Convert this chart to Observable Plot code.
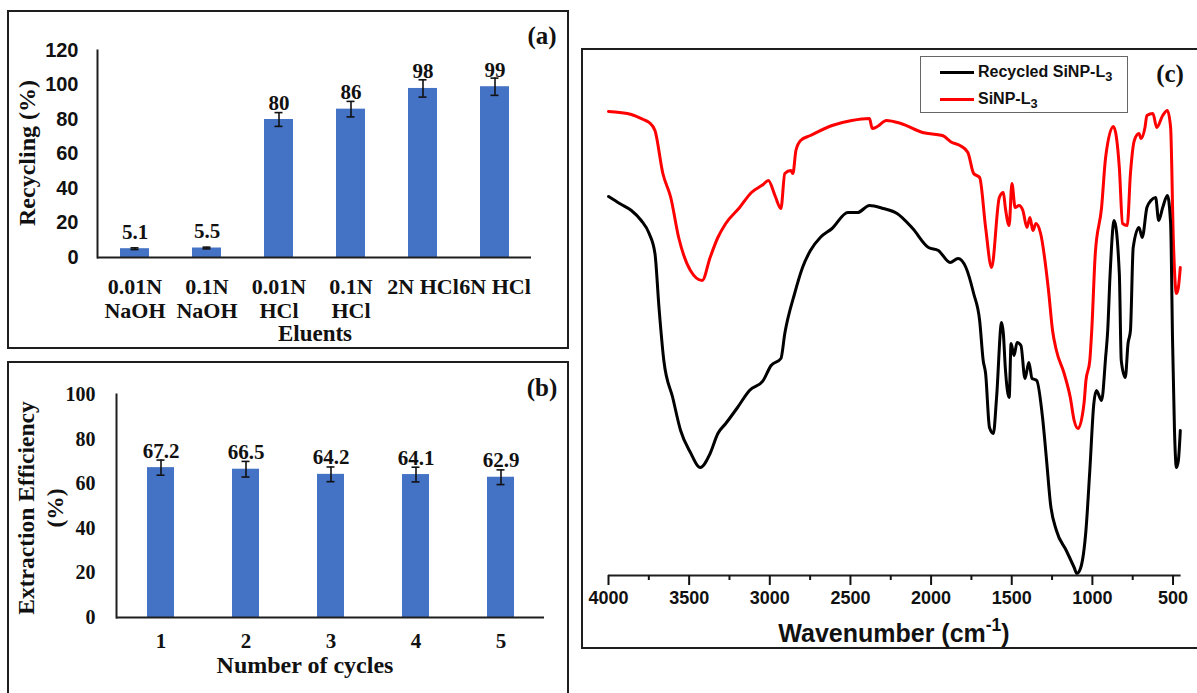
<!DOCTYPE html>
<html><head><meta charset="utf-8">
<script src="https://cdn.jsdelivr.net/npm/d3@7"></script>
<script src="https://cdn.jsdelivr.net/npm/@observablehq/plot@0.6"></script>
<style>
body{margin:0;background:#fff;}
#root{position:relative;width:1197px;height:693px;overflow:hidden;background:#fff;}
.frame{position:absolute;border:2px solid #1e1e1e;box-sizing:border-box;}
.lbl{position:absolute;white-space:nowrap;color:#111;line-height:1;}
.serif{font-family:"Liberation Serif","Times New Roman",serif;font-weight:bold;}
.sans{font-family:"Liberation Sans",Arial,sans-serif;font-weight:bold;}
.plot{position:absolute;}
.pa g[aria-label="y-axis tick label"] text{font-family:"Liberation Sans",Arial,sans-serif !important;font-size:20px !important;font-weight:bold !important;}
.pa g[aria-label="x-axis tick label"] text{font-family:"Liberation Serif","Times New Roman",serif !important;font-size:22px !important;font-weight:bold !important;}
.pb g[aria-label="y-axis tick label"] text{font-family:"Liberation Serif","Times New Roman",serif !important;font-size:20px !important;font-weight:bold !important;}
.pb g[aria-label="x-axis tick label"] text{font-family:"Liberation Serif","Times New Roman",serif !important;font-size:21px !important;font-weight:bold !important;}
.pc g[aria-label="x-axis tick label"] text{font-family:"Liberation Sans",Arial,sans-serif !important;font-size:18px !important;font-weight:bold !important;}
</style></head>
<body><div id="root"></div>
<script>
// ---------- data ----------
const eluents = ["0.01N\nNaOH", "0.1N\nNaOH", "0.01N\nHCl", "0.1N\nHCl", "2N HCl", "6N HCl"];
const recycling = [5.1, 5.5, 80, 86, 98, 99];
const recyclingErr = [0.5, 0.5, 4, 4.5, 5, 5];
const recyclingTicks = [0, 20, 40, 60, 80, 100, 120];

const cycles = ["1", "2", "3", "4", "5"];
const efficiency = [67.2, 66.5, 64.2, 64.1, 62.9];
const efficiencyErr = [3.4, 3.5, 3.3, 3.3, 3.3];
const efficiencyTicks = [0, 20, 40, 60, 80, 100];

const wnTicks = [4000, 3500, 3000, 2500, 2000, 1500, 1000, 500];
const wnMinorTicks = [3750, 3250, 2750, 2250, 1750, 1250, 750];

// Recycled SiNP-L3 (black): wavenumber (cm-1) and relative transmittance (a.u.)
const recycledWn = [4000,3931,3858,3797,3748,3712,3687,3657,3602,3553,3492,3431,3370,3322,3273,3200,3126,3041,2992,2931,2907,2846,2797,2748,2687,2614,2516,2456,2382,2297,2211,2114,2016,1955,1882,1833,1784,1736,1699,1677,1662,1638,1614,1594,1563,1552,1540,1516,1504,1486,1467,1443,1418,1394,1374,1357,1345,1309,1284,1260,1223,1162,1113,1096,1072,1040,1016,991,975,943,918,905,890,865,833,821,796,779,764,747,711,691,662,637,608,589,564,535,515,503,491,479,467,455];
const recycledT = [75.8,74.4,73.0,71.0,68.4,64.4,53.6,43.0,35.6,29.0,24.6,21.6,24.4,28.4,30.4,33.6,37.0,39.0,42.0,43.4,48.4,56.4,61.6,65.0,67.6,69.4,72.6,72.6,74.0,73.4,72.4,69.4,65.6,65.0,62.6,63.4,61.6,56.4,51.0,43.0,40.4,29.6,28.4,35.6,50.6,48.4,41.6,35.6,46.4,44.0,46.6,46.0,39.4,42.6,39.4,39.2,39.0,31.6,23.0,14.4,9.0,5.0,1.6,0.4,1.6,9.0,21.0,34.4,37.0,35.0,43.6,49.0,60.4,71.0,60.4,43.0,39.6,46.4,49.0,65.6,69.6,67.6,73.6,75.0,75.6,71.0,73.6,76.0,70.4,47.0,29.0,21.6,23.0,29.0];

// SiNP-L3 (red)
const sinpWn = [4000,3931,3858,3785,3748,3712,3663,3614,3565,3492,3419,3370,3322,3273,3187,3114,3041,3009,2968,2931,2907,2870,2857,2838,2809,2748,2614,2492,2382,2365,2333,2277,2187,2053,1930,1870,1821,1772,1736,1699,1662,1625,1577,1552,1540,1516,1499,1479,1455,1431,1406,1387,1369,1350,1321,1272,1247,1223,1175,1137,1113,1089,1052,1040,1016,1004,982,943,918,870,833,813,784,764,740,711,698,674,662,625,601,564,535,515,498,479,467,455];
const sinpT = [92.8,92.6,92.2,91.2,90.6,89.0,80.4,75.6,67.6,61.0,59.0,63.6,67.6,70.4,73.6,76.6,78.2,79.0,76.0,73.4,80.4,81.0,80.4,85.0,87.0,88.0,90.0,91.0,91.4,89.4,89.8,91.0,90.4,88.6,88.0,86.6,86.0,84.6,80.4,79.6,69.6,61.6,75.6,76.6,73.6,70.0,78.4,73.6,74.0,73.0,69.6,71.6,69.0,70.4,68.4,57.0,49.0,45.0,40.4,35.6,31.0,29.4,34.4,39.0,43.0,49.0,64.4,73.6,83.6,89.8,81.6,70.4,70.0,80.4,87.0,88.4,87.4,89.6,92.0,92.4,89.6,92.0,93.0,89.6,67.0,56.4,57.6,61.6];

// ---------- layout helpers ----------
const SERIF = "Liberation Serif";
const SANS = "Liberation Sans";
const BAR = "#4472C4";
const root = document.getElementById("root");

function frame(l, t, w, h) {
  const d = document.createElement("div");
  d.className = "frame";
  Object.assign(d.style, {left: l + "px", top: t + "px", width: w + "px", height: h + "px"});
  root.appendChild(d);
}
function label(html, cx, cy, cls, size, rot) {
  const d = document.createElement("div");
  d.className = "lbl " + cls;
  d.innerHTML = html;
  d.style.left = cx + "px";
  d.style.top = cy + "px";
  d.style.fontSize = size + "px";
  d.style.transform = "translate(-50%,-50%)" + (rot ? " rotate(" + rot + "deg)" : "");
  root.appendChild(d);
}
function placePlot(svg, l, t) {
  svg.classList.add("plot");
  svg.style.left = l + "px";
  svg.style.top = t + "px";
  root.appendChild(svg);
}

// ---------- frames ----------
frame(7, 10, 562, 339);
frame(7, 361, 562, 345);
frame(581, 48, 620, 601);

// ---------- panel (a) ----------
const dataA = eluents.map((e, i) => ({e, v: recycling[i], err: recyclingErr[i]}));
const plotA = Plot.plot({
  className: "pa",
  width: 570, height: 350,
  marginLeft: 97, marginRight: 39, marginTop: 50, marginBottom: 93,
  style: {fontFamily: SERIF, fontWeight: "bold", fontSize: "21px", color: "#111", background: "transparent", overflow: "visible"},
  x: {domain: eluents, paddingInner: 0.6, paddingOuter: 0.3, label: null},
  y: {domain: [0, 120], label: null},
  marks: [
    Plot.barY(dataA, {x: "e", y: "v", fill: BAR}),
    Plot.ruleX(dataA, {x: "e", y1: d => d.v - d.err, y2: d => d.v + d.err, stroke: "#111", strokeWidth: 1.6}),
    Plot.tickY(dataA, {x: "e", y: d => d.v + d.err, insetLeft: 10.5, insetRight: 10.5, stroke: "#111", strokeWidth: 1.6}),
    Plot.tickY(dataA, {x: "e", y: d => d.v - d.err, insetLeft: 10.5, insetRight: 10.5, stroke: "#111", strokeWidth: 1.6}),
    Plot.text(dataA, {x: "e", y: d => d.v, text: d => String(d.v), dy: -10, lineAnchor: "bottom", fontSize: "21px", fontFamily: SERIF, fontWeight: "bold", fill: "#111"}),
    Plot.axisY({ticks: recyclingTicks, tickSize: 0, tickPadding: 19, label: null}),
    Plot.axisX({tickSize: 0, tickPadding: 19, lineHeight: 1.1, label: null}),
    Plot.ruleY([0], {stroke: "#1e1e1e", strokeWidth: 2}),
    Plot.frame({anchor: "left", stroke: "#1e1e1e", strokeWidth: 2})
  ]
});
placePlot(plotA, 0, 0);
label("(a)", 542, 35, "serif", 25);
label("Recycling (%)", 27, 153, "serif", 24, -90);
label("Eluents", 315, 333, "serif", 23);

// ---------- panel (b) ----------
const dataB = cycles.map((c, i) => ({c, v: efficiency[i], err: efficiencyErr[i]}));
const plotB = Plot.plot({
  className: "pb",
  width: 570, height: 338,
  marginLeft: 116, marginRight: 26, marginTop: 39, marginBottom: 76,
  style: {fontFamily: SERIF, fontWeight: "bold", fontSize: "21px", color: "#111", background: "transparent", overflow: "visible"},
  x: {domain: cycles, paddingInner: 0.685, paddingOuter: 0.3425, label: null},
  y: {domain: [0, 100], label: null},
  marks: [
    Plot.barY(dataB, {x: "c", y: "v", fill: BAR}),
    Plot.ruleX(dataB, {x: "c", y1: d => d.v - d.err, y2: d => d.v + d.err, stroke: "#111", strokeWidth: 1.6}),
    Plot.tickY(dataB, {x: "c", y: d => d.v + d.err, insetLeft: 9.5, insetRight: 9.5, stroke: "#111", strokeWidth: 1.6}),
    Plot.tickY(dataB, {x: "c", y: d => d.v - d.err, insetLeft: 9.5, insetRight: 9.5, stroke: "#111", strokeWidth: 1.6}),
    Plot.text(dataB, {x: "c", y: d => d.v, text: d => d.v.toFixed(1), dy: -10, lineAnchor: "bottom", fontSize: "21px", fontFamily: SERIF, fontWeight: "bold", fill: "#111"}),
    Plot.axisY({ticks: efficiencyTicks, tickSize: 0, tickPadding: 21, label: null}),
    Plot.axisX({tickSize: 0, tickPadding: 16, label: null}),
    Plot.ruleY([0], {stroke: "#1e1e1e", strokeWidth: 2}),
    Plot.frame({anchor: "left", stroke: "#1e1e1e", strokeWidth: 2})
  ]
});
placePlot(plotB, 0, 355);
label("(b)", 542, 387, "serif", 25);
label("Extraction Efficiency", 27, 508, "serif", 23.5, -90);
label("(%)", 56, 508, "serif", 23.5, -90);
label("Number of cycles", 305, 665, "serif", 24);

// ---------- panel (c) ----------
const recycled = recycledWn.map((w, i) => ({wn: w, t: recycledT[i]}));
const sinp = sinpWn.map((w, i) => ({wn: w, t: sinpT[i]}));
const plotC = Plot.plot({
  className: "pc",
  width: 615, height: 599,
  marginLeft: 26, marginRight: 16.4, marginTop: 26, marginBottom: 73,
  style: {fontFamily: SANS, fontWeight: "bold", fontSize: "18px", color: "#111", background: "transparent", overflow: "visible"},
  x: {domain: [4000, 450], label: null},
  y: {domain: [0, 100], axis: null},
  marks: [
    Plot.line(sinp, {x: "wn", y: "t", stroke: "#ff0000", strokeWidth: 3, curve: "monotone-x"}),
    Plot.line(recycled, {x: "wn", y: "t", stroke: "#000", strokeWidth: 3, curve: "monotone-x"}),
    Plot.ruleY([0], {stroke: "#1e1e1e", strokeWidth: 2}),
    Plot.axisX({ticks: wnTicks, tickSize: 10, tickPadding: 6, strokeWidth: 2, tickFormat: d => String(d), label: null}),
    Plot.axisX({ticks: wnMinorTicks, tickSize: 5, strokeWidth: 2, tickFormat: () => "", label: null})
  ]
});
placePlot(plotC, 582, 49);
label("(c)", 1170, 73, "serif", 25);
label("Wavenumber (cm<sup style='font-size:0.7em;vertical-align:0.6em;line-height:0'>-1</sup>)", 894, 633, "sans", 25);

// legend (c)
const lg = document.createElement("div");
Object.assign(lg.style, {position: "absolute", left: "920px", top: "56px", width: "208px", height: "57px", border: "1px solid #666", boxSizing: "border-box", background: "#fff"});
root.appendChild(lg);
[["Recycled SiNP-L<sub>3</sub>", "#000", 72], ["SiNP-L<sub>3</sub>", "#ff0000", 99]].forEach(([txt, col, y]) => {
  const ln = document.createElement("div");
  Object.assign(ln.style, {position: "absolute", left: "940px", top: (y - 1.5) + "px", width: "34px", height: "3px", background: col});
  root.appendChild(ln);
  const t = document.createElement("div");
  t.className = "lbl sans";
  t.innerHTML = txt.replace("<sub>", "<sub style='font-size:0.8em;line-height:0;vertical-align:-0.3em'>");
  Object.assign(t.style, {left: "978px", top: y + "px", fontSize: "16px", transform: "translateY(-50%)"});
  root.appendChild(t);
});
</script>
</body></html>
